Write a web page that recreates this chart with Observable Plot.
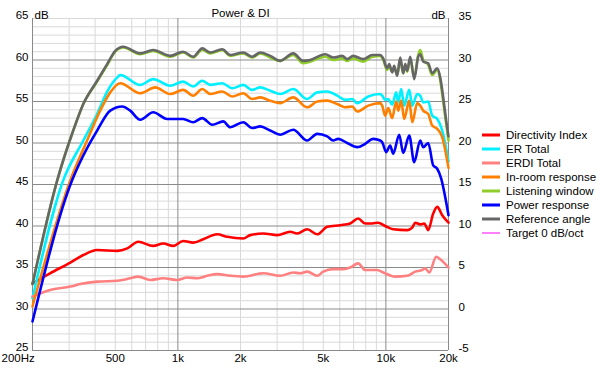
<!DOCTYPE html>
<html><head><meta charset="utf-8">
<script src="https://cdn.jsdelivr.net/npm/d3@7"></script>
<script src="https://cdn.jsdelivr.net/npm/@observablehq/plot@0.6"></script>
<style>body{margin:0;background:#fff} #chart{width:600px;height:368px}</style>
</head><body><div id="chart"></div>
<script>
const FONT = "'Liberation Sans', Arial, sans-serif";
const seriesNames = ["Directivity Index","ER Total","ERDI Total","In-room response","Listening window","Power response","Reference angle","Target 0 dB/oct"];
const seriesColors = ["#ff0000","#00f0ff","#ff8080","#ff8000","#8fce2a","#0000ff","#666666","#ff00ff"];

// [frequency Hz, value] ; DI curves in right-axis units
const directivityIndex = [[200,3.1],[243,4.3],[304,5.6],[351,6.5],[409,7.1],[511,7.0],[571,7.3],[645,8.1],[761,7.6],[850,7.9],[949,7.6],[1060,8.2],[1185,8.0],[1324,8.4],[1545,9.0],[1726,8.7],[2061,8.5],[2227,8.9],[2572,9.1],[3002,8.9],[3468,9.3],[3747,9.1],[4184,9.6],[4674,9.0],[5221,9.9],[6030,10.1],[6736,10.3],[7361,10.9],[7955,10.3],[8596,10.3],[9183,10.4],[9925,10.0],[10842,9.6],[12663,9.5],[13386,9.8],[13837,10.4],[14622,10.2],[15287,10.3],[15976,9.5],[16884,11.5],[17650,12.3],[18653,11.3],[20000,10.4]];
const erdiTotal = [[200,1.5],[243,2.3],[304,2.7],[339,3.0],[409,3.3],[511,3.4],[590,3.7],[645,3.9],[736,3.5],[850,3.7],[992,3.5],[1109,3.8],[1238,3.7],[1383,4.0],[1545,4.2],[1785,4.0],[2061,3.9],[2572,4.3],[3104,4.0],[3585,4.4],[3873,4.3],[4184,4.5],[4674,4.0],[4995,4.5],[5581,4.8],[6234,4.8],[6736,5.0],[7361,5.5],[7955,4.7],[9082,4.7],[9707,4.4],[11085,3.9],[12663,4.0],[13837,4.5],[14952,4.7],[15455,4.9],[16153,4.4],[17456,6.3],[18247,6.0],[20000,5.0]];
const erTotal = [[200,31.3],[281,45.5],[351,50.3],[409,53.5],[457,56.2],[516,58.0],[528,58.2],[659,57.0],[761,57.7],[918,56.9],[1060,57.4],[1185,56.8],[1309,57.5],[1430,57.0],[1633,57.2],[1825,56.6],[2061,57.0],[2276,56.4],[2488,56.7],[2778,56.3],[3104,55.9],[3585,56.5],[4184,55.3],[4674,56.1],[5221,56.2],[5834,55.7],[6373,55.2],[6887,55.3],[7280,54.8],[8223,55.6],[9389,55.9],[9600,55.7],[9925,55.2],[10259,55.3],[10723,54.6],[11208,56.1],[11460,54.9],[11849,56.5],[12249,54.5],[12948,56.4],[13386,54.5],[14147,55.9],[14622,55.7],[15118,54.9],[15976,55.0],[16698,53.3],[17650,52.9],[18653,51.5],[20000,47.8]];
const inRoom = [[200,30.3],[304,45.5],[366,50.3],[423,53.9],[473,56.1],[528,57.2],[659,56.0],[778,56.7],[918,55.9],[1060,56.4],[1185,55.7],[1309,56.5],[1430,55.9],[1633,56.2],[1825,55.6],[2061,56.0],[2276,55.3],[2488,55.5],[2778,55.1],[3104,54.8],[3585,55.5],[4184,54.3],[4674,55.0],[5221,55.1],[5834,54.7],[6373,54.3],[6887,54.4],[7280,53.8],[8223,54.5],[9389,54.8],[9600,54.5],[9925,53.3],[10259,54.2],[10723,53.0],[11208,55.0],[11460,53.9],[11849,55.1],[12249,52.9],[12948,55.1],[13386,52.5],[14147,54.8],[14622,54.5],[15118,53.9],[15976,53.5],[16698,52.1],[17650,51.7],[18653,50.7],[20000,47.0]];
const listeningWindow = [[200,33.0],[263,45.5],[314,51.5],[351,54.7],[409,57.4],[457,59.4],[500,61.0],[546,61.5],[659,60.7],[761,61.1],[918,60.4],[1060,60.9],[1185,60.3],[1309,61.2],[1430,60.8],[1633,61.2],[1785,60.5],[2061,60.8],[2276,60.3],[2488,60.8],[2778,60.3],[3104,59.9],[3585,60.6],[4003,59.6],[4325,59.8],[5107,60.4],[5581,60.0],[6165,60.2],[6516,59.9],[6963,60.2],[7780,59.8],[8596,60.4],[9389,60.5],[9707,60.0],[10146,58.8],[10373,59.3],[10723,58.6],[10962,59.1],[11333,58.2],[11719,60.1],[12115,58.4],[12385,59.3],[12663,58.6],[13092,60.2],[13685,57.9],[14304,60.6],[14622,61.2],[15118,60.0],[15976,59.4],[16698,58.2],[17650,58.8],[18247,57.6],[18860,55.0],[19496,52.3],[20000,50.3]];
const powerResponse = [[200,28.5],[310,45.5],[351,48.5],[409,51.5],[473,53.9],[540,54.4],[590,53.9],[659,52.8],[761,53.7],[888,52.9],[1060,52.9],[1185,52.5],[1309,53.0],[1462,52.2],[1651,52.6],[1785,51.9],[2061,52.5],[2276,51.8],[2488,52.0],[2778,51.5],[3104,51.0],[3585,51.6],[4184,50.3],[4674,51.1],[5221,50.8],[5581,50.3],[5898,50.5],[6516,50.0],[7280,49.5],[7955,49.9],[8690,50.5],[9389,50.3],[9600,50.1],[10035,48.9],[10489,49.7],[10842,48.7],[11588,51.0],[12115,48.8],[12948,50.9],[13685,47.7],[14622,50.3],[15118,49.5],[15976,50.0],[16884,47.3],[17650,46.9],[18449,45.7],[19282,43.5],[20000,41.3]];
const referenceAngle = [[200,33.0],[263,45.5],[314,51.5],[351,54.7],[409,57.5],[457,59.5],[500,61.1],[546,61.6],[659,60.8],[761,61.2],[918,60.5],[1060,61.0],[1185,60.4],[1309,61.4],[1430,60.9],[1633,61.3],[1785,60.6],[2061,60.9],[2276,60.4],[2488,60.9],[2778,60.5],[3104,59.9],[3585,60.8],[4003,59.9],[4325,60.0],[5107,60.7],[5581,60.3],[6165,60.5],[6516,60.1],[6963,60.5],[7780,60.1],[8596,60.6],[9389,60.6],[9707,60.2],[10146,59.0],[10373,59.5],[10723,58.5],[10962,59.3],[11333,58.1],[11719,60.3],[12115,58.4],[12385,59.5],[12663,58.7],[13092,60.4],[13685,57.7],[14304,60.4],[14622,60.7],[15118,59.8],[15976,59.6],[16698,58.4],[17650,59.0],[18247,57.9],[18860,55.5],[19496,52.7],[20000,50.8]];

const xTicks = [200,500,1000,2000,5000,10000,20000];
const xTickLabels = ["200Hz","500","1k","2k","5k","10k","20k"];
const xMinor = [300,400,500,600,700,800,900,2000,3000,4000,5000,6000,7000,8000,9000];
const xMajor = [1000,10000];
const yTicksLeft = [25,30,35,40,45,50,55,60,65];
const yTicksRight = [-5,0,5,10,15,20,25,30,35];
const DI_OFFSET = 30;

const rows = [];
function add(name, arr, offset) { for (const [f, v] of arr) rows.push({name, f, v: v + offset}); }
add("Directivity Index", directivityIndex, DI_OFFSET);
add("ER Total", erTotal, 0);
add("ERDI Total", erdiTotal, DI_OFFSET);
add("In-room response", inRoom, 0);
add("Listening window", listeningWindow, 0);
add("Power response", powerResponse, 0);
add("Reference angle", referenceAngle, 0);

const yMinor = d3.range(25, 66).filter(d => d % 5 !== 0);
const gridMajor = "#8a8a8a", gridMinor = "#d9d9d9";

const plot = Plot.plot({
  width: 600, height: 368,
  marginLeft: 32, marginRight: 152, marginTop: 18, marginBottom: 18,
  style: {fontFamily: FONT, fontSize: "11.5px", color: "#000", background: "#fff"},
  x: {type: "log", domain: [200, 20000], axis: null},
  y: {domain: [25, 65], axis: null},
  color: {domain: seriesNames, range: seriesColors},
  marks: [
    Plot.ruleY(yMinor, {stroke: gridMinor}),
    Plot.ruleX(xMinor, {stroke: gridMinor}),
    Plot.ruleY([65], {stroke: gridMinor}),
    Plot.ruleY([25,30,35,40,45,50,55,60], {stroke: gridMajor}),
    Plot.ruleX([200, ...xMajor, 20000], {stroke: gridMajor}),
    Plot.line(rows, {x: "f", y: "v", z: "name", stroke: "name", strokeWidth: 2.6, strokeLinejoin: "round", curve: "monotone-x"}),
    Plot.axisY({anchor: "left", ticks: yTicksLeft, tickSize: 0, tickPadding: 4, dy: -3, label: null}),
    Plot.axisY({anchor: "right", ticks: yTicksRight.map(d => d + DI_OFFSET), tickFormat: d => String(d - DI_OFFSET), tickSize: 0, tickPadding: 10, dy: -2, label: null}),
    Plot.text(xTicks.slice(1), {x: d => d, text: (d, i) => xTickLabels[i + 1], frameAnchor: "bottom", dy: 11}),
    Plot.text(xTicks.slice(0, 1), {x: d => d, text: () => xTickLabels[0], frameAnchor: "bottom", textAnchor: "start", dx: -31, dy: 11.5}),
    Plot.text(["Power & DI"], {frameAnchor: "top", dy: -10}),
    Plot.text(["dB"], {frameAnchor: "top-left", textAnchor: "start", dx: 2, dy: -8}),
    Plot.text(["dB"], {frameAnchor: "top-right", textAnchor: "end", dx: -3, dy: -8})
  ]
});

// legend at right side
const svg = d3.select(plot);
const lg = svg.append("g").attr("font-family", FONT).attr("font-size", "11.5px").attr("text-anchor", "start");
seriesNames.forEach((name, i) => {
  const y = 135 + i * 14;
  lg.append("line").attr("x1", 482).attr("x2", 500).attr("y1", y).attr("y2", y)
    .attr("stroke", seriesColors[i]).attr("stroke-width", name.startsWith("Target") ? 1 : 3);
  lg.append("text").attr("x", 506).attr("y", y).attr("dy", "0.35em").attr("text-anchor", "start").attr("fill", "#000").text(name);
});
document.getElementById("chart").append(plot);
</script>
</body></html>
